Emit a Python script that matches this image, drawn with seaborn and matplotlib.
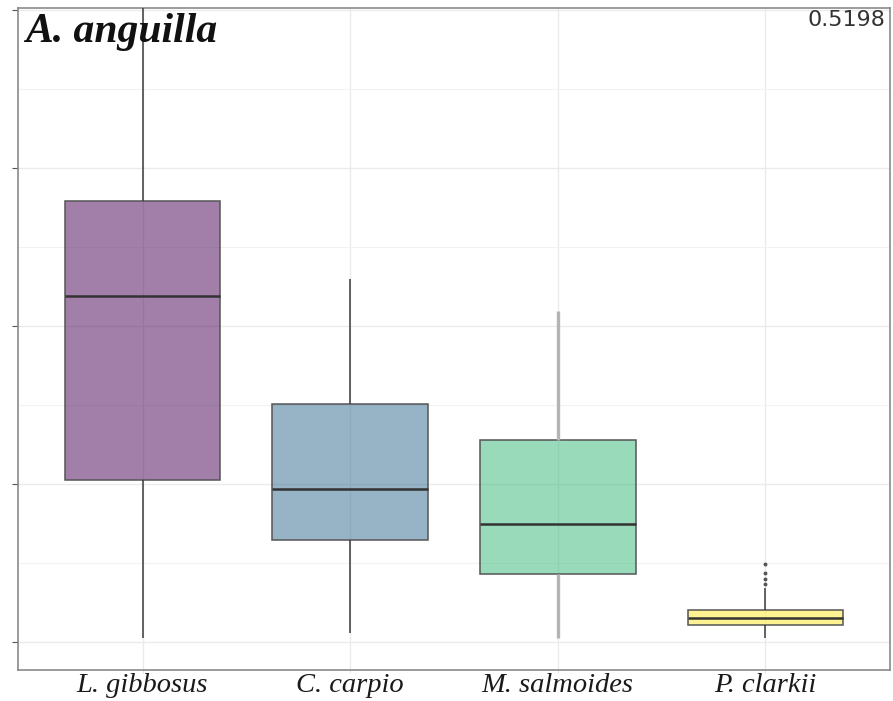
import matplotlib
matplotlib.use("Agg")
import matplotlib.pyplot as plt
import seaborn as sns
import pandas as pd
import numpy as np
from matplotlib.ticker import MultipleLocator, NullFormatter

# Niche-overlap values of each species against A. anguilla
species = ["L. gibbosus", "C. carpio", "M. salmoides", "P. clarkii"]
l_gibbosus = [0.0025, 0.1025, 0.219, 0.279, 0.43]
c_carpio = [0.0057, 0.0646, 0.0968, 0.1506, 0.2297]
m_salmoides = [0.0025, 0.043, 0.0747, 0.1278, 0.2095]
p_clarkii = [0.0025, 0.005, 0.007, 0.009, 0.0100, 0.0108, 0.0118, 0.0128,
             0.0136, 0.0144, 0.0152, 0.0163, 0.0174, 0.0185, 0.0195, 0.0203,
             0.0343, 0.0370, 0.0400, 0.0437, 0.0494]
overlap_label = "0.5198"
title = "A. anguilla"

colors = ["#440154", "#31688E", "#35B779", "#FDE725"]

df = pd.DataFrame({
    "species": np.repeat(species, [len(l_gibbosus), len(c_carpio), len(m_salmoides), len(p_clarkii)]),
    "value": l_gibbosus + c_carpio + m_salmoides + p_clarkii,
})

sns.set_theme(style="white")
fig = plt.figure(figsize=(8.93, 7.01), dpi=100)
ax = fig.add_axes([18 / 893, 1 - 670 / 701, 872 / 893, 662 / 701])

sns.boxplot(data=df, x="species", y="value", hue="species", order=species,
            hue_order=species, palette=colors, saturation=1, width=0.75,
            showcaps=False, linecolor="#3a3a3a", linewidth=1.1, legend=False, ax=ax,
            flierprops=dict(marker="o", markersize=1.8, markerfacecolor="#555555",
                            markeredgecolor="#555555"),
            medianprops=dict(color="#333333", linewidth=1.8), zorder=3)

for patch in ax.patches:
    fc = patch.get_facecolor()
    patch.set_facecolor((fc[0], fc[1], fc[2], 0.5))
    patch.set_edgecolor("#555555")

# Lighter whiskers on the M. salmoides box
cont = ax.containers[2]
for w in cont.whiskers:
    w.set_color("#b4b4b4")
    w.set_linewidth(2.4)

ax.set_xlim(-0.6, 3.6)
ax.set_ylim(-0.0177, 0.401)
ax.yaxis.set_major_locator(MultipleLocator(0.1))
ax.yaxis.set_minor_locator(MultipleLocator(0.05))
ax.yaxis.set_major_formatter(NullFormatter())
ax.set_xlabel("")
ax.set_ylabel("")

ax.grid(True, which="major", color="#ebebeb", linewidth=1.0, zorder=0)
ax.grid(True, which="minor", axis="y", color="#f2f2f2", linewidth=0.8, zorder=0)
ax.set_axisbelow(True)

ax.tick_params(axis="y", which="major", left=True, length=4, width=0.8,
               color="#555555", direction="out")
ax.tick_params(axis="y", which="minor", left=False)
ax.tick_params(axis="x", which="major", bottom=True, length=2, width=0.6,
               color="#dddddd", pad=0.5)
for lab in ax.get_xticklabels():
    lab.set_fontfamily("Liberation Serif")
    lab.set_fontstyle("italic")
    lab.set_fontsize(20.5)
    lab.set_color("#1a1a1a")

for s in ax.spines.values():
    s.set_visible(True)
    s.set_color("#8a8a8a")
    s.set_linewidth(1.2)

ax.text(0.008, 0.993, title, transform=ax.transAxes, ha="left", va="top",
        fontfamily="Liberation Serif", fontstyle="italic", fontweight="bold",
        fontsize=30, color="#111111")
ax.text(0.995, 0.997, overlap_label, transform=ax.transAxes, ha="right", va="top",
        fontfamily="DejaVu Sans", fontsize=16, color="#333333")

fig.savefig("out.png", dpi=100)
